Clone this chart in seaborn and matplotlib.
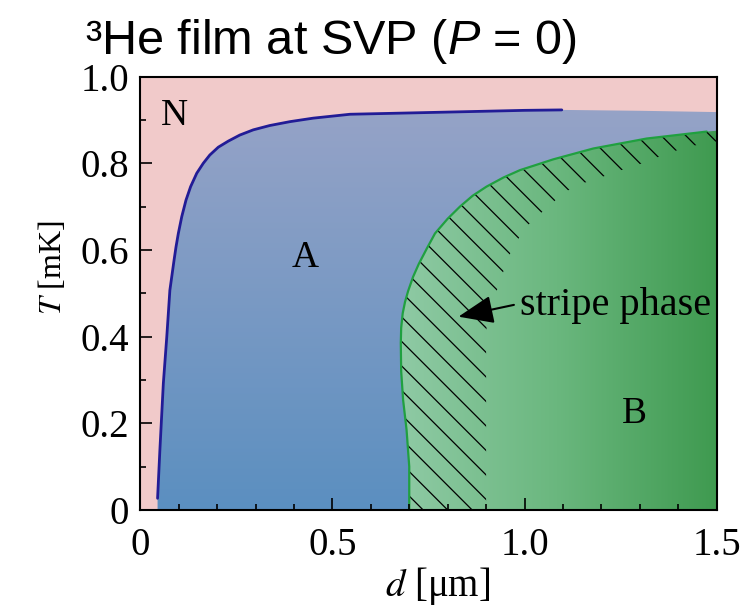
import numpy as np
import matplotlib
matplotlib.use("Agg")
import matplotlib.pyplot as plt
from matplotlib.colors import LinearSegmentedColormap
from matplotlib.patches import Polygon
from matplotlib.ticker import MultipleLocator
import seaborn as sns

# N -> A boundary (d in um, T in mK)
na_d = [0.045, 0.051, 0.060, 0.069, 0.077, 0.088, 0.093, 0.099, 0.108, 0.119, 0.131, 0.147, 0.164,
        0.181, 0.203, 0.229, 0.259, 0.294, 0.337, 0.390, 0.450, 0.546, 0.70, 0.85, 1.0, 1.097]
na_T = [0.027, 0.138, 0.292, 0.400, 0.507, 0.577, 0.607, 0.638, 0.677, 0.715, 0.746, 0.777, 0.800,
        0.819, 0.837, 0.851, 0.865, 0.877, 0.887, 0.896, 0.904, 0.913, 0.916, 0.919, 0.922, 0.923]
# top edge of the A region where the drawn line stops
na_edge_d = [1.3, 1.5]
na_edge_T = [0.921, 0.918]

# A -> B boundary
ab_d = [0.700, 0.700, 0.693, 0.684, 0.679, 0.678, 0.679, 0.683, 0.689, 0.697, 0.710, 0.725, 0.745,
        0.767, 0.800, 0.832, 0.865, 0.901, 0.945, 0.988, 1.075, 1.179, 1.318, 1.474, 1.5]
ab_T = [0.0, 0.10, 0.185, 0.254, 0.32, 0.385, 0.42, 0.454, 0.48, 0.505, 0.538, 0.568, 0.602,
        0.638, 0.672, 0.700, 0.725, 0.746, 0.767, 0.784, 0.809, 0.834, 0.857, 0.873, 0.875]

# inner edge of the hatched stripe phase
stripe_d = [0.9, 0.9, 0.905, 0.927, 0.958, 0.979, 1.005, 1.036, 1.07, 1.10, 1.144, 1.19, 1.235, 1.283, 1.326, 1.374, 1.417, 1.469, 1.5]
stripe_T = [0.0, 0.41, 0.45, 0.504, 0.584, 0.619, 0.654, 0.68, 0.706, 0.731, 0.752, 0.764, 0.78, 0.792, 0.807, 0.823, 0.836, 0.846, 0.85]

x_ticks = [0, 0.5, 1.0, 1.5]
x_labels = ["0", "0.5", "1.0", "1.5"]
y_ticks = [0, 0.2, 0.4, 0.6, 0.8, 1.0]
y_labels = ["0", "0.2", "0.4", "0.6", "0.8", "1.0"]

phase_names = ["N", "A", "B"]
phase_d = [0.088, 0.428, 1.287]
phase_T = [0.909, 0.582, 0.221]

sns.set_style("ticks")
plt.rcParams["font.family"] = ["Liberation Serif", "DejaVu Serif"]
plt.rcParams["text.color"] = "black"
plt.rcParams["axes.labelcolor"] = "black"
plt.rcParams["mathtext.fontset"] = "custom"
plt.rcParams["mathtext.rm"] = "Liberation Sans"
plt.rcParams["mathtext.it"] = "Liberation Sans:italic"

fig = plt.figure(figsize=(7.55, 6.06), dpi=100)
ax = fig.add_axes([0.1858, 0.1584, 0.7634, 0.7153])
ax.set_facecolor("#f1caca")
ax.set_xlim(0, 1.5)
ax.set_ylim(0, 1.0)

# region outlines used as clip paths
a_poly = Polygon(list(zip(na_d + na_edge_d + [1.5, na_d[0]], na_T + na_edge_T + [0, 0])),
                 transform=ax.transData, facecolor="none", edgecolor="none")
b_poly = Polygon(list(zip(ab_d + [1.5], ab_T + [0])),
                 transform=ax.transData, facecolor="none", edgecolor="none")
s_poly = Polygon(list(zip(ab_d + stripe_d[::-1], ab_T + stripe_T[::-1])),
                 transform=ax.transData, facecolor="none", edgecolor="none")
for p in (a_poly, b_poly, s_poly):
    ax.add_patch(p)

# gradient fills
blue = LinearSegmentedColormap.from_list("blue", ["#5b8fc0", "#96a3c7"])
im = ax.imshow(np.linspace(0, 1, 256).reshape(-1, 1), cmap=blue, origin="lower",
               extent=[0, 1.5, 0, 0.93], aspect="auto", zorder=0.5)
im.set_clip_path(a_poly)

green = LinearSegmentedColormap.from_list("green", ["#8fcaa5", "#6ab77e", "#3f9a50"])
im = ax.imshow(np.linspace(0, 1, 256).reshape(1, -1), cmap=green, origin="lower",
               extent=[0.67, 1.5, 0, 1.0], aspect="auto", zorder=0.6)
im.set_clip_path(b_poly)

# hatch lines of the stripe phase, 45 deg on screen
W = 755 * 0.7634
H = 606 * 0.7153
for c in np.arange(13.4, W + H, 24.5):
    ln, = ax.plot([0, c / W], [c / H, 0], transform=ax.transAxes, color="black", lw=0.9, zorder=1)
    ln.set_clip_path(s_poly)

sns.lineplot(x=na_d, y=na_T, sort=False, estimator=None, color="#221c96", lw=2, ax=ax, zorder=2)
sns.lineplot(x=ab_d[:-1], y=ab_T[:-1], sort=False, estimator=None, color="#20a040", lw=1.6, ax=ax, zorder=2)

for name, d, t in zip(phase_names, phase_d, phase_T):
    ax.text(d, t, name, fontsize=27, ha="center", va="center", color="black")

ax.annotate("stripe phase", xy=(0.828, 0.446), xytext=(0.988, 0.45), fontsize=29,
            va="baseline", ha="left", color="black",
            arrowprops=dict(arrowstyle="-|>,head_length=0.75,head_width=0.3",
                            color="black", lw=1.5, relpos=(0, 0.55), shrinkA=2, shrinkB=0))

ax.set_xticks(x_ticks)
ax.set_xticklabels(x_labels)
ax.set_yticks(y_ticks)
ax.set_yticklabels(y_labels)
ax.xaxis.set_minor_locator(MultipleLocator(0.1))
ax.yaxis.set_minor_locator(MultipleLocator(0.1))
ax.tick_params(which="both", direction="in", top=False, right=False, colors="black", width=1.2)
ax.tick_params(which="major", length=8.5, labelsize=28)
ax.tick_params(axis="y", which="major", pad=8)
ax.tick_params(axis="x", which="major", pad=12)
ax.tick_params(which="minor", length=4.5)
ax.set_axisbelow(False)
for s in ax.spines.values():
    s.set_linewidth(1.5)
    s.set_color("black")
    s.set_zorder(3)

ax.set_xlabel("$d$ [μm]", fontsize=28, math_fontfamily="stix")
ax.set_ylabel("$T$ [mK]", fontsize=23, math_fontfamily="stix")
ax.xaxis.set_label_coords(0.516, -0.127)
ax.yaxis.set_label_coords(-0.125, 0.558)

fig.text(85 / 755, 1 - 54 / 606, "³He film at SVP ($P$ = 0)", fontsize=35,
         family="Liberation Sans", math_fontfamily="custom", ha="left", va="baseline")

fig.savefig("out.png", dpi=100)
